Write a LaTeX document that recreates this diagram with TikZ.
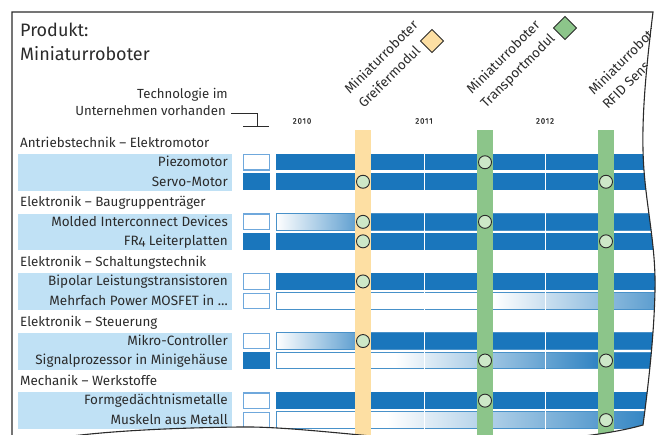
\documentclass[tikz,border=0pt]{standalone}
\usepackage{fontspec}
\setmainfont{Fira Sans}[Numbers=OldStyle]
\definecolor{barblue}{HTML}{1A76BC}
\definecolor{labelbg}{HTML}{C0E1F5}
\definecolor{boxedge}{HTML}{6FA8DC}
\definecolor{orangeband}{HTML}{FDDFA3}
\definecolor{greenband}{HTML}{8CC58A}
\definecolor{msfill}{HTML}{CDE8C8}
\definecolor{inkgray}{HTML}{2B2B2B}
\newcommand{\mkrow}[4]{%
  \node[rowtext] (#1) at (228,#2+4.3) {#3};
  \node[#4] (#1box) at (256.5,#2) {};
}
\newcommand{\barsolid}[1]{\fill[barblue] (276,#1-8.25) rectangle (720,#1+8.25);}
\newcommand{\bargrad}[4]{%
  \fill[white] (276,#1-8.25) rectangle (720,#1+8.25);
  \shade[left color=white,right color=#4] (#2,#1-8.25) rectangle (#3,#1+8.25);
  \fill[barblue] (#3,#1-8.25) rectangle (720,#1+8.25);
  \draw[baredge] (276,#1-8.25) rectangle (720,#1+8.25);
}
\begin{document}
\begin{tikzpicture}[x=1pt,y=-1pt,
  every node/.style={inner sep=0pt, text=inkgray},
  titletext/.style={font=\fontsize{18}{21}\selectfont, anchor=base west},
  headtext/.style={font=\fontsize{13.4}{15}\selectfont, anchor=base west},
  rowtext/.style={font=\fontsize{13.5}{15}\selectfont, anchor=base east},
  toptext/.style={font=\fontsize{13.2}{15}\selectfont, anchor=base east},
  rottext/.style={font=\fontsize{13.5}{15}\selectfont, anchor=base west, rotate=45},
  yeartext/.style={font=\fontsize{8}{10}\selectfont\addfontfeature{Numbers=Lining,LetterSpace=10,FakeBold=0.6}},
  boxon/.style={fill=barblue, minimum width=27, minimum height=16.5},
  boxoff/.style={fill=white, draw=boxedge, line width=1.2, minimum width=26, minimum height=15.5},
  baredge/.style={draw=barblue!80!white, line width=0.9},
  milestone/.style={circle, fill=msfill, draw=inkgray, line width=0.9, minimum size=13},
  milediamond/.style={draw=inkgray, line width=0.9, rotate=45, minimum size=16.3},
  framestroke/.style={draw=inkgray, line width=1.1},
  bracket/.style={draw=inkgray, line width=0.8}
]
\useasboundingbox (0,0) rectangle (660,435);
\def\pagepath{(12,445) -- (12,12) -- (653,12)
  .. controls (647,60) and (642,110) .. (643,150)
  .. controls (644,200) and (656,240) .. (655,290)
  .. controls (654,340) and (647,395) .. (643,425)
  .. controls (615,433) and (560,442) .. (470,442)
  .. controls (400,442) and (300,426) .. (240,427)
  .. controls (160,428) and (90,432) .. (45,440)}
\begin{scope}
\clip \pagepath -- cycle;
% title
\node[titletext] (t1) at (20,37) {Produkt:};
\node[titletext] (t2) at (20,61) {Miniaturroboter};
% legend
\node[toptext] (tech1) at (228,99) {Technologie im};
\node[toptext] (tech2) at (226,116) {Unternehmen vorhanden};
\coordinate (brkB) at (257,126);
\coordinate (brkL) at (243,126);
\coordinate (brkR) at (269,126);
\draw[bracket] ([xshift=5]tech2.base east) ++(0,-3) -| (brkB);
\draw[bracket] (brkL) -- (brkR);
% years
\node[yeartext] (y2010) at (302,121) {2010};
\node[yeartext] (y2011) at (424,121) {2011};
\node[yeartext] (y2012) at (545,121) {2012};
% group headers and label backgrounds
\foreach \g/\head in {0/{Antriebstechnik – Elektromotor},1/{Elektronik – Baugruppenträger},2/{Elektronik – Schaltungstechnik},3/{Elektronik – Steuerung},4/{Mechanik – Werkstoffe}}{
  \pgfmathsetmacro\hy{143+59.6*\g}
  \node[headtext] (head\g) at (20,\hy+4.3) {\head};
  \fill[labelbg] (18,\hy+11) rectangle (232,\hy+47.7);
}
% bars
\barsolid{162.25}
\barsolid{181.75}
\bargrad{221.85}{276}{368}{barblue!80!white}
\barsolid{241.35}
\barsolid{281.45}
\bargrad{300.95}{493}{720}{barblue}
\bargrad{341.05}{276}{368}{barblue!80!white}
\bargrad{360.55}{395}{620}{barblue}
\barsolid{400.65}
\bargrad{420.15}{387}{680}{barblue}
\foreach \x in {424,545}{\draw[white, line width=1] (\x,150) -- (\x,432);}
% row labels and boxes
\mkrow{piezo}{162.25}{Piezomotor}{boxoff}
\mkrow{servo}{181.75}{Servo-Motor}{boxon}
\mkrow{mid}{221.85}{Molded Interconnect Devices}{boxoff}
\mkrow{fr4}{241.35}{FR4 Leiterplatten}{boxon}
\mkrow{bipolar}{281.45}{Bipolar Leistungstransistoren}{boxoff}
\mkrow{mosfet}{300.95}{Mehrfach Power MOSFET in …}{boxoff}
\mkrow{mikro}{341.05}{Mikro-Controller}{boxoff}
\mkrow{signal}{360.55}{Signalprozessor in Minigehäuse}{boxon}
\mkrow{form}{400.65}{Formgedächtnismetalle}{boxoff}
\mkrow{muskel}{420.15}{Muskeln aus Metall}{boxoff}
% bands
\fill[orangeband] (355,130) rectangle (371,445);
\fill[greenband] (477,130) rectangle (493,445);
\fill[greenband] (598,130) rectangle (614,445);
% milestones
\foreach \n/\x/\y in {a1/363/181.75,a2/363/221.85,a3/363/241.35,a4/363/281.45,a5/363/341.05,
  b1/485/162.25,b2/485/221.85,b3/485/360.55,b4/485/400.65,
  c1/606/181.75,c2/606/241.35,c3/606/360.55,c4/606/420.15}{
  \node[milestone] (m\n) at (\x,\y) {};
}
% rotated labels
\node[rottext] (gr1) at (350,95) {Miniaturroboter};
\node[rottext] (gr2) at (364,109) {Greifermodul};
\node[rottext] (tr1) at (472,95) {Miniaturroboter};
\node[rottext] (tr2) at (486,109) {Transportmodul};
\node[rottext] (rf1) at (594,96) {Miniaturroboter};
\node[rottext] (rf2) at (608,110) {RFID Sensormodul};
\node[milediamond, fill=orangeband] (dia1) at (432,41) {};
\node[milediamond, fill=greenband] (dia2) at (565,28) {};
\end{scope}
\draw[framestroke] \pagepath;
\end{tikzpicture}
\end{document}
